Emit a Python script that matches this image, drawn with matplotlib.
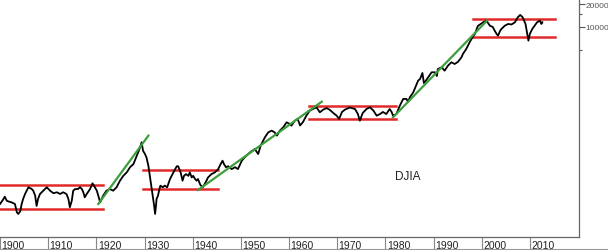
import matplotlib
matplotlib.use("Agg")
import matplotlib.pyplot as plt
from matplotlib.lines import Line2D

# DJIA yearly path (log scale)
years = [1900.0, 1900.6, 1901.0, 1901.4, 1901.7, 1902.4, 1903.1, 1903.5, 1903.8, 1904.2,
         1904.5, 1904.8, 1905.2, 1905.9, 1906.6, 1906.9, 1907.3, 1907.6, 1907.9, 1908.3,
         1909.0, 1909.7, 1910.4, 1911.1, 1911.8, 1912.5, 1913.1, 1913.8, 1914.2, 1914.5,
         1914.9, 1915.2, 1915.6, 1916.2, 1916.6, 1917.0, 1917.3, 1917.6, 1918.0, 1918.7,
         1919.2, 1919.7, 1920.1, 1920.4, 1920.8, 1921.4, 1922.1, 1922.8, 1923.5, 1924.2,
         1924.9, 1925.6, 1926.3, 1927.0, 1927.7, 1928.4, 1929.1, 1929.4, 1929.7, 1930.1,
         1930.4, 1930.8, 1931.1, 1931.5, 1931.7, 1932.0, 1932.2, 1932.4, 1932.5, 1932.8,
         1933.1, 1933.3, 1933.8, 1934.2, 1934.7, 1935.3, 1936.0, 1936.7, 1937.0, 1937.5,
         1937.9, 1938.2, 1938.6, 1939.1, 1939.4, 1939.8, 1940.1, 1940.5, 1940.8, 1941.1,
         1941.6, 1942.1, 1942.3, 1942.7, 1943.2, 1943.9, 1944.6, 1945.3, 1945.8, 1946.2,
         1946.5, 1946.9, 1947.4, 1948.1, 1948.8, 1949.4, 1950.2, 1950.8, 1951.9, 1952.9,
         1953.6, 1954.1, 1955.0, 1955.7, 1956.4, 1957.0, 1957.5, 1958.1, 1958.8, 1959.5,
         1960.2, 1960.5, 1961.2, 1961.8, 1962.3, 1962.9, 1963.6, 1964.3, 1965.0, 1965.7,
         1966.4, 1967.1, 1967.8, 1968.5, 1969.2, 1969.9, 1970.4, 1971.0, 1971.6, 1972.6,
         1973.7, 1974.3, 1974.7, 1975.3, 1976.1, 1976.8, 1977.5, 1978.2, 1978.9, 1979.5,
         1980.2, 1980.9, 1981.3, 1981.6, 1982.3, 1983.0, 1983.7, 1984.4, 1984.7, 1985.1,
         1985.8, 1986.5, 1986.8, 1987.2, 1987.7, 1988.0, 1988.4, 1988.8, 1989.6, 1990.3,
         1990.7, 1990.9, 1991.7, 1992.3, 1993.0, 1993.7, 1994.4, 1995.1, 1995.8, 1996.1,
         1996.8, 1997.5, 1998.1, 1998.6, 1999.2, 1999.8, 2000.3, 2001.0, 2001.7, 2002.3,
         2002.7, 2003.1, 2003.4, 2003.8, 2004.1, 2004.8, 2005.5, 2006.2, 2006.9, 2007.5,
         2008.0, 2008.5, 2009.1, 2009.4, 2009.7, 2010.0, 2010.5, 2011.0, 2011.5, 2012.1,
         2012.4, 2012.6]
djia = [46.9, 53, 58.5, 51.8, 50.8, 49.3, 46.9, 36.5, 34.7, 37.6,
        46.9, 54.6, 63.5, 77.8, 73.8, 70.2, 60.3, 44.2, 54.6, 63.5,
        70.2, 77.8, 70.2, 64.9, 66.9, 63.5, 66.9, 63.5, 54.6, 42.5,
        51.8, 70.2, 73.8, 73.8, 78, 73.8, 66.9, 57.4, 63.5, 73.8,
        87.7, 77.8, 70.2, 60.3, 49.3, 60.3, 70.2, 73.8, 70.2, 77.8,
        95, 110, 122, 143, 157, 202, 261, 304, 235, 213,
        193, 150, 110, 73.8, 60.3, 44.6, 34.7, 45.5, 54.6, 60.3,
        73.8, 81.8, 77.8, 81.8, 77.8, 100, 122, 147, 147, 122,
        95, 110, 116, 110, 122, 105, 110, 100, 95, 100,
        83.4, 77.8, 81.8, 90.6, 105, 116, 122, 135, 157, 174,
        157, 143, 147, 135, 143, 135, 174, 193, 224, 248,
        213, 274, 354, 411, 433, 411, 372, 433, 479, 557,
        529, 503, 585, 617, 506, 562, 681, 793, 834, 878,
        755, 817, 859, 809, 738, 681, 617, 762, 817, 873,
        834, 716, 585, 738, 834, 878, 797, 681, 716, 762,
        716, 834, 762, 681, 716, 921, 1130, 1130, 1031, 1189,
        1384, 1778, 1965, 2070, 2480, 1830, 1965, 2133, 2535, 2535,
        2265, 2800, 2950, 2660, 3100, 3430, 3260, 3490, 3990, 4410,
        5140, 6300, 7330, 8100, 10310, 10960, 11530, 12110, 10400, 10000,
        8940, 8100, 7690, 8850, 9410, 10400, 10960, 10790, 11530, 13430,
        14400, 13430, 10960, 8510, 6610, 8100, 9410, 10400, 11530, 12110,
        10960, 11530]

# trading ranges (red)
band_start = [1900.0, 1929.7, 1964.1, 1998.1]
band_end = [1921.4, 1945.2, 1982.3, 2015.2]
band_upper = [83.4, 130, 912, 12740]
band_lower = [39.7, 74.5, 610, 7380]

# trend lines (green)
trend_x0 = [1920.4, 1941.1, 1981.6]
trend_y0 = [46.9, 71.6, 649]
trend_x1 = [1930.8, 1966.8, 2001.1]
trend_y1 = [372, 1040, 12110]

decades = list(range(1900, 2020, 10))

plt.rcParams['font.family'] = ['Liberation Sans', 'DejaVu Sans']

fig = plt.figure(figsize=(6.08, 2.51), dpi=100)
ax = fig.add_axes([0, 13/251, 578.5/608, 238/251])

ax.plot(years, djia, color="black", lw=1.3, zorder=3)

for i in range(len(band_start)):
    ax.plot([band_start[i], band_end[i]], [band_upper[i], band_upper[i]], color="#e02a2a", lw=1.8, zorder=2)
    ax.plot([band_start[i], band_end[i]], [band_lower[i], band_lower[i]], color="#e02a2a", lw=1.8, zorder=2)

for i in range(len(trend_x0)):
    ax.plot([trend_x0[i], trend_x1[i]], [trend_y0[i], trend_y1[i]], color="#3c9e3c", lw=1.6, zorder=4)

ax.set_yscale("log")
ax.set_ylim(17.25, 23350)
ax.set_xlim(1900, 2020.1)

# right axis: only the top ticks show
ax.yaxis.tick_right()
ax.set_yticks([10000, 20000])
ax.set_yticklabels(["10000", "20000"])
ax.set_yticks([5000, 15000], minor=True)
ax.yaxis.set_minor_formatter(plt.NullFormatter())
ax.tick_params(axis="y", which="major", direction="out", length=4, width=0.8,
               colors="#555555", labelsize=6, pad=1)
ax.tick_params(axis="y", which="minor", direction="out", length=2, width=0.8, colors="#555555")

# x axis: separators with year labels to their right
ax.set_xticks(decades)
ax.set_xticklabels([])
ax.xaxis.set_minor_locator(plt.NullLocator())
ax.tick_params(axis="x", direction="out", length=9, width=0.8, colors="#888888")
for d in decades:
    ax.text(d + 0.3, -0.013, str(d), transform=ax.get_xaxis_transform(),
            ha="left", va="top", fontsize=7.5, color="#222222")

for side in ["top", "left"]:
    ax.spines[side].set_visible(False)
for side in ["bottom", "right"]:
    ax.spines[side].set_color("#666666")
    ax.spines[side].set_linewidth(0.9)

fig.add_artist(Line2D([0, 1], [1.2/251, 1.2/251], color="#999999", lw=0.8))

ax.text(1982.1, 108, "DJIA", fontsize=8.5, color="#222222", ha="left", va="center")

fig.savefig("out.png", dpi=100)
